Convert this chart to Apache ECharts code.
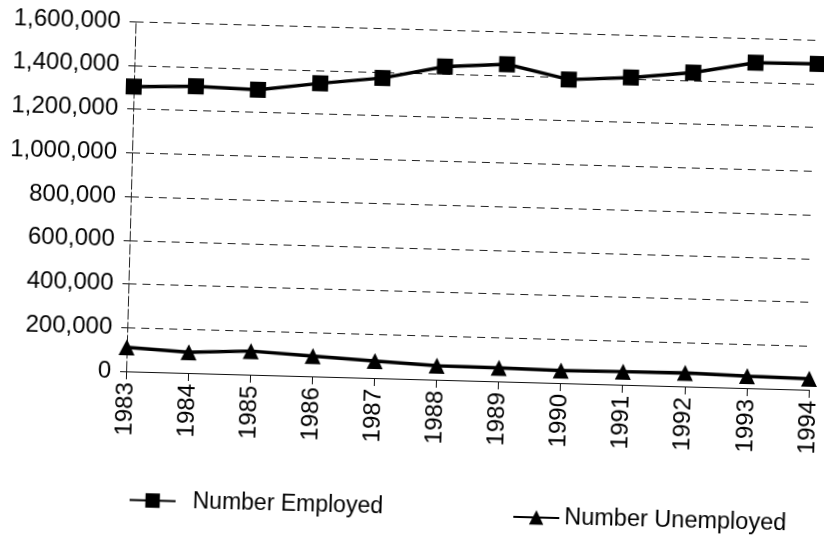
<!DOCTYPE html>
<html>
<head>
<meta charset="utf-8">
<script src="https://cdn.jsdelivr.net/npm/echarts@6/dist/echarts.min.js"></script>
<style>
  html, body { margin: 0; padding: 0; background: #fff; overflow: hidden; }
  /* the scanned original sits slightly tilted on the page */
  #chart { width: 824px; height: 536px; transform: rotate(1.55deg); transform-origin: 50% 50%; }
</style>
</head>
<body>
<div id="chart"></div>
<script>
// data
const years = ['1983', '1984', '1985', '1986', '1987', '1988', '1989', '1990', '1991', '1992', '1993', '1994'];
const employed = [1302000, 1311000, 1303000, 1340000, 1372000, 1432000, 1450000, 1388000, 1405000, 1435000, 1488000, 1490000];
const unemployed = [110000, 95000, 108000, 93000, 78000, 64000, 62000, 57000, 60000, 62000, 55000, 50000];
const yMin = 0;
const yMax = 1600000;
const yStep = 200000;

const font = '"Liberation Sans", Arial, sans-serif';
const chart = echarts.init(document.getElementById('chart'));

const option = {
    backgroundColor: '#fff',
    animation: false,
    textStyle: { fontFamily: font, color: '#000' },
    grid: { left: 129, right: 2, top: 29, bottom: 157 },
    legend: [
        {
            data: ['Number Employed'],
            left: 130, top: 491,
            itemWidth: 46, itemHeight: 18,
            textStyle: { fontSize: 23, color: '#000', fontFamily: font, padding: [0, 0, 0, 12] }
        },
        {
            data: ['Number Unemployed'],
            left: 514, top: 497,
            itemWidth: 46, itemHeight: 18,
            textStyle: { fontSize: 23.5, color: '#000', fontFamily: font, padding: [0, 0, 0, 0] }
        }
    ],
    xAxis: {
        type: 'category',
        data: years,
        boundaryGap: false,
        axisLine: { lineStyle: { color: '#111', width: 1 } },
        axisTick: { show: true, length: 8, lineStyle: { color: '#111' } },
        axisLabel: { rotate: 90, fontSize: 24, color: '#000', margin: 11, fontFamily: font },
        splitLine: { show: false }
    },
    yAxis: {
        type: 'value',
        min: yMin,
        max: yMax,
        interval: yStep,
        axisLine: { show: true, lineStyle: { color: '#222', width: 1, type: [10, 3] } },
        axisTick: { show: true, length: 6, lineStyle: { color: '#111' } },
        axisLabel: {
            fontSize: 24, color: '#000', margin: 15, fontFamily: font,
            formatter: v => v.toLocaleString('en-US')
        },
        splitLine: { show: true, lineStyle: { color: '#222', width: 1.2, type: [8, 6] } }
    },
    series: [
        {
            name: 'Number Employed',
            type: 'line',
            data: employed,
            symbol: 'rect',
            symbolSize: 16,
            itemStyle: { color: '#000' },
            lineStyle: { color: '#000', width: 3.5 }
        },
        {
            name: 'Number Unemployed',
            type: 'line',
            data: unemployed,
            symbol: 'triangle',
            symbolSize: 16,
            itemStyle: { color: '#000' },
            lineStyle: { color: '#000', width: 3.5 }
        }
    ]
};

chart.setOption(option);
</script>
</body>
</html>
